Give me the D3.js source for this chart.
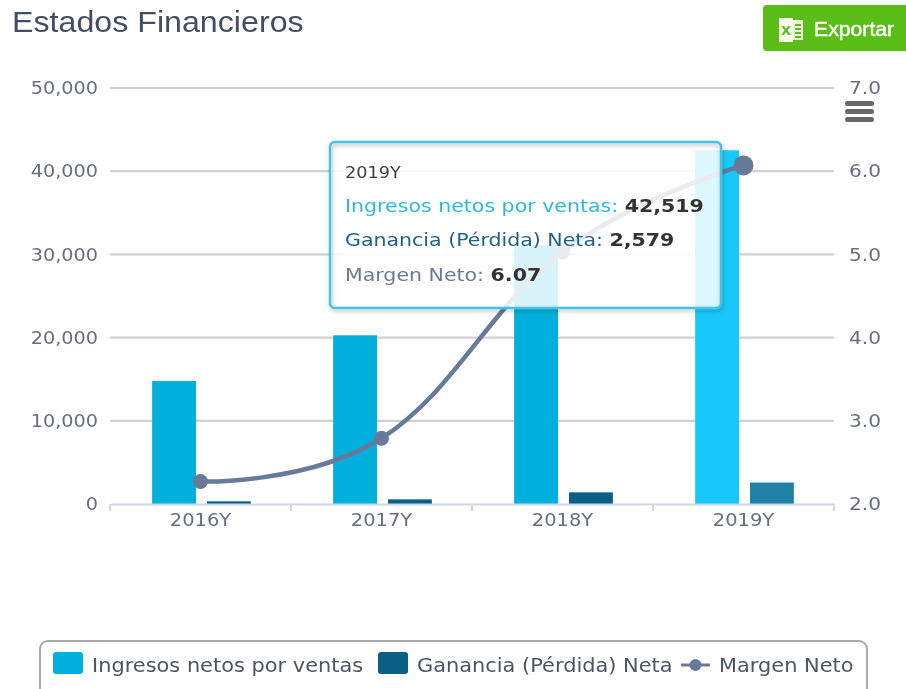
<!DOCTYPE html>
<html><head><meta charset="utf-8">
<script src="https://cdn.jsdelivr.net/npm/d3@7"></script>
<style>
html,body{margin:0;padding:0;background:#fff;overflow:hidden}
svg{display:block;filter:blur(0.5px)}
text{font-family:"DejaVu Sans",sans-serif}
</style></head><body>
<svg id="c" width="906" height="689"></svg>
<script>
const categories=["2016Y","2017Y","2018Y","2019Y"];
const ingresos=[14780,20280,31100,42519];
const ganancia=[320,560,1400,2579];
const margen=[2.27,2.79,5.03,6.07];
const leftTicks=[0,10000,20000,30000,40000,50000];
const rightTicks=[2,3,4,5,6,7];
const seriesNames=["Ingresos netos por ventas","Ganancia (Pérdida) Neta","Margen Neto"];
const colors=["#00b0dc","#0a5f85","#68799a"];
const hoverColors=["#19c8fa","#2080a6"];
const activeIndex=3;

// spline with zero-length end handles and 0.4-length inner handles
function splineCurve(context){
  let pts;
  return {
    areaStart(){},areaEnd(){},
    lineStart(){pts=[];},
    point(a,b){pts.push([+a,+b]);},
    lineEnd(){
      const n=pts.length;
      const k=0.4;
      const tan=i=>(i===0||i===n-1)?[0,0]:[pts[i+1][0]-pts[i-1][0],pts[i+1][1]-pts[i-1][1]];
      context.moveTo(pts[0][0],pts[0][1]);
      for(let i=1;i<n;i++){
        const seg=pts[i][0]-pts[i-1][0];
        const t0=tan(i-1),t1=tan(i);
        const s0=t0[0]?k*seg/t0[0]:0,s1=t1[0]?k*seg/t1[0]:0;
        context.bezierCurveTo(pts[i-1][0]+t0[0]*s0,pts[i-1][1]+t0[1]*s0,pts[i][0]-t1[0]*s1,pts[i][1]-t1[1]*s1,pts[i][0],pts[i][1]);
      }
    }
  };
}
function stretch(sel,f){
  sel.each(function(){
    this.setAttribute("textLength",this.getComputedTextLength()*f);
    this.setAttribute("lengthAdjust","spacingAndGlyphs");
  });
}

const svg=d3.select("#c");
const m={l:110,r:834,t:88,b:504};
const x=d3.scaleBand().domain(categories).range([m.l,m.r]);
const xs=d3.scaleBand().domain([0,1]).range([1,x.bandwidth()+1]).paddingInner(0.2).paddingOuter(0.75);
const yL=d3.scaleLinear().domain([0,50000]).range([m.b,m.t]);
const yR=d3.scaleLinear().domain([2,7]).range([m.b,m.t]);

svg.append("text").attr("x",12).attr("y",32).text("Estados Financieros")
  .style("font-family","'Liberation Sans',sans-serif").style("font-size","29px").attr("fill","#434e60")
  .call(stretch,1.11);
svg.append("rect").attr("x",763).attr("y",5).attr("width",150).attr("height",46).attr("rx",4).attr("fill","#5bbd17");
const ic=svg.append("g").attr("transform","translate(779,18)");
ic.append("rect").attr("x",8).attr("y",2).attr("width",16).attr("height",20).attr("fill","#e9f6d9");
ic.append("rect").attr("x",0).attr("y",0).attr("width",14).attr("height",24).attr("fill","#f4fbea");
ic.append("text").attr("x",7).attr("y",17).attr("text-anchor","middle").text("X")
  .style("font-size","13px").style("font-weight","bold").attr("fill","#5bbd17");
[6,10,14,18].forEach(v=>ic.append("rect").attr("x",16).attr("y",v).attr("width",6).attr("height",2).attr("fill","#5bbd17"));
svg.append("text").attr("x",814).attr("y",36).text("Exportar")
  .style("font-family","'Liberation Sans',sans-serif").style("font-size","20px").attr("fill","#fff")
  .attr("stroke","#fff").attr("stroke-width",0.4).call(stretch,1.06);

const gL=svg.append("g").attr("transform",`translate(${m.l},0)`)
  .call(d3.axisLeft(yL).tickValues(leftTicks).tickFormat(d3.format(",")).tickSize(0).tickPadding(12));
gL.select(".domain").remove();
gL.selectAll("text").style("font-size","17.5px").style("font-family","'DejaVu Sans',sans-serif").attr("fill","#666f80").call(stretch,1.1);
const gR=svg.append("g").attr("transform",`translate(${m.r},0)`)
  .call(d3.axisRight(yR).tickValues(rightTicks).tickFormat(d3.format(".1f")).tickSize(0).tickPadding(15));
gR.select(".domain").remove();
gR.selectAll("text").style("font-size","17.5px").style("font-family","'DejaVu Sans',sans-serif").attr("fill","#666f80").call(stretch,1.15);

svg.append("g").selectAll("line").data(leftTicks.filter(d=>d>0)).join("line")
  .attr("x1",m.l).attr("x2",m.r).attr("y1",d=>yL(d)).attr("y2",d=>yL(d))
  .attr("stroke","#d0d0d0").attr("stroke-width",2.2);

const bars=svg.append("g");
[ingresos,ganancia].forEach((vals,s)=>{
  bars.selectAll(null).data(vals).join("rect")
    .attr("x",(d,i)=>x(categories[i])+xs(s)).attr("width",xs.bandwidth())
    .attr("y",d=>yL(d)).attr("height",d=>m.b-yL(d))
    .attr("fill",(d,i)=>i===activeIndex?hoverColors[s]:colors[s]);
});

const gX=svg.append("g").attr("transform",`translate(0,${m.b})`)
  .call(d3.axisBottom(x).tickSize(0).tickPadding(10));
gX.select(".domain").attr("stroke","#cdd8e8").attr("stroke-width",2);
gX.selectAll("text").style("font-size","17.5px").style("font-family","'DejaVu Sans',sans-serif").attr("fill","#666f80").call(stretch,1.11);
const xEdges=d3.range(categories.length+1).map(i=>m.l+i*x.step());
gX.selectAll(".edge").data(xEdges).join("line").attr("class","edge")
  .attr("x1",d=>d).attr("x2",d=>d).attr("y1",0).attr("y2",7).attr("stroke","#cdd8e8").attr("stroke-width",2);

const px=(d,i)=>x(categories[i])+x.bandwidth()/2;
const line=d3.line().x(px).y(d=>yR(d)).curve(splineCurve);
svg.append("path").attr("d",line(margen)).attr("fill","none").attr("stroke",colors[2]).attr("stroke-width",4.5);
svg.append("g").selectAll("circle").data(margen).join("circle")
  .attr("cx",px).attr("cy",d=>yR(d)).attr("r",(d,i)=>i===activeIndex?10:7.5).attr("fill",colors[2]);

[[845,101],[845,109],[845,117]].forEach(p=>svg.append("rect").attr("x",p[0]).attr("y",p[1]).attr("width",29).attr("height",5).attr("rx",2.5).attr("fill","#666"));

const sh=svg.append("defs").append("filter").attr("id","sh").attr("x","-5%").attr("y","-5%").attr("width","110%").attr("height","115%");
sh.append("feDropShadow").attr("dx",1).attr("dy",2).attr("stdDeviation",2).attr("flood-color","#000").attr("flood-opacity",0.3);
svg.append("rect").attr("x",330).attr("y",142).attr("width",391).attr("height",166).attr("rx",5)
  .attr("fill","#fff").attr("fill-opacity",0.85);
svg.append("rect").attr("x",330).attr("y",142).attr("width",391).attr("height",166).attr("rx",5)
  .attr("fill","none").attr("stroke","#45c3e3").attr("stroke-width",2.5).attr("filter","url(#sh)");
const tt=svg.append("g").style("font-size","18.5px");
tt.append("text").attr("transform","translate(345,178) scale(1.14,1)").text(categories[activeIndex]).style("font-size","15.5px").attr("fill","#3a3f4a");
const rows=[[ingresos[activeIndex],d3.format(","),"#2fb7de",212],[ganancia[activeIndex],d3.format(","),"#1f5f85",246],[margen[activeIndex],d3.format(".2f"),"#68799a",281]];
rows.forEach((r,i)=>{
  const t=tt.append("text").attr("transform",`translate(345,${r[3]}) scale(1.11,1)`);
  t.append("tspan").text(seriesNames[i]+": ").attr("fill",r[2]);
  t.append("tspan").text(r[1](r[0])).style("font-weight","bold").attr("fill","#333");
});

svg.append("rect").attr("x",40).attr("y",641).attr("width",827).attr("height",60).attr("rx",8)
  .attr("fill","#fff").attr("stroke","#aaa").attr("stroke-width",2);
const lg=svg.append("g");
[[53,92],[378,417]].forEach((p,i)=>{
  lg.append("rect").attr("x",p[0]).attr("y",652).attr("width",30).attr("height",22).attr("rx",3).attr("fill",colors[i]);
  lg.append("text").attr("x",p[1]).attr("y",672).text(seriesNames[i]).style("font-size","19px").attr("fill","#4c5566").call(stretch,1.1);
});
lg.append("line").attr("x1",681).attr("x2",710).attr("y1",665).attr("y2",665).attr("stroke",colors[2]).attr("stroke-width",3);
lg.append("circle").attr("cx",695.5).attr("cy",665).attr("r",6).attr("fill",colors[2]);
lg.append("text").attr("x",719).attr("y",672).text(seriesNames[2]).style("font-size","19px").attr("fill","#4c5566").call(stretch,1.1);
</script></body></html>
